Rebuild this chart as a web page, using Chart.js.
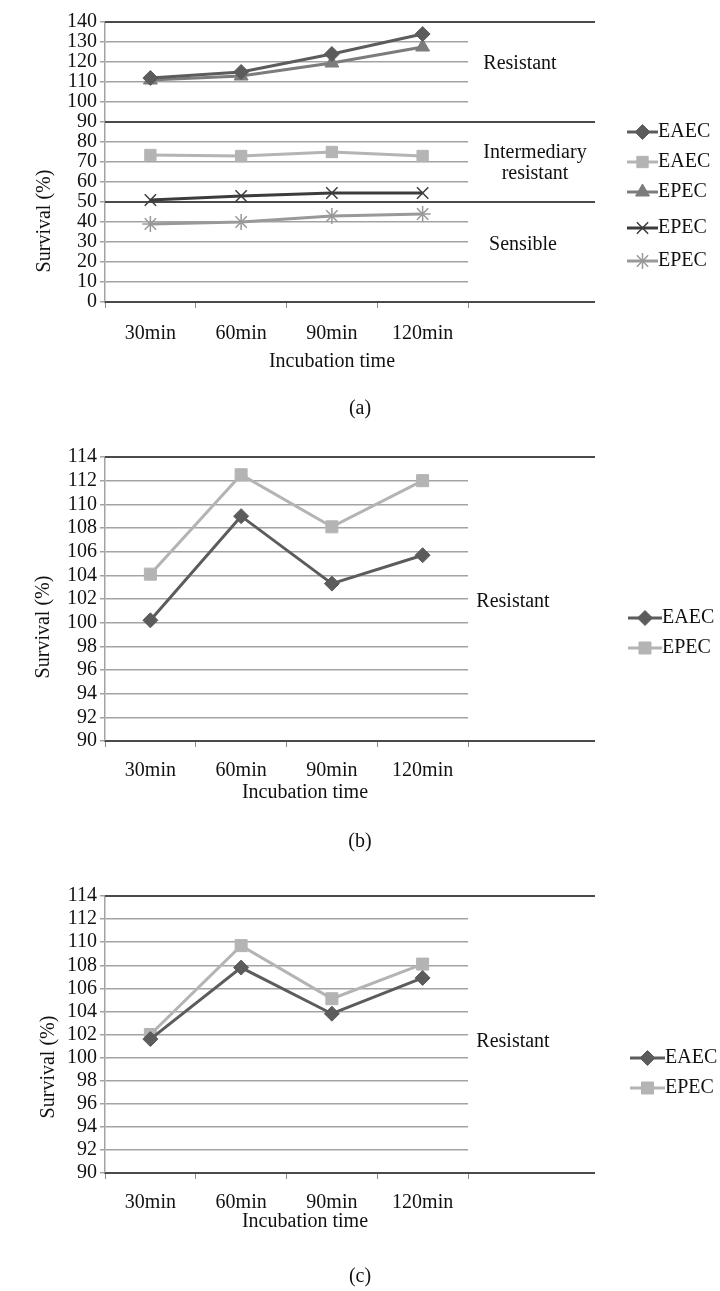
<!DOCTYPE html>
<html>
<head>
<meta charset="utf-8">
<script src="https://cdn.jsdelivr.net/npm/chart.js@4.4.1/dist/chart.umd.min.js"></script>
<style>
  body { margin: 0; background: #fff; }
  #page { position: relative; width: 720px; height: 1291px; background: #fff; }
  .box { position: absolute; left: 0; width: 720px; height: 400px; }
  .caption { position: absolute; left: 0; width: 720px; text-align: center;
             font: 20px "Liberation Serif", "DejaVu Serif", serif; line-height: 22px; color: #111; }
</style>
</head>
<body>
<div id="page">
  <div class="box" style="top:0px"><canvas id="chart-a"></canvas></div>
  <div class="caption" style="top:396px">(a)</div>
  <div class="box" style="top:420px"><canvas id="chart-b"></canvas></div>
  <div class="caption" style="top:829px">(b)</div>
  <div class="box" style="top:860px"><canvas id="chart-c"></canvas></div>
  <div class="caption" style="top:1264px">(c)</div>
</div>
<script>
const timeLabels = ['30min', '60min', '90min', '120min'];

// panel (a)
const aEaecDiamond = [112, 115, 124, 134];
const aEaecSquare = [73.5, 73, 75, 73];
const aEpecTriangle = [111, 113, 119.5, 127.5];
const aEpecCross = [51, 53, 54.5, 54.5];
const aEpecStar = [39, 40, 43, 44];
const aDividers = [140, 90, 50, 0];

// panel (b)
const bEaec = [100.2, 109, 103.3, 105.7];
const bEpec = [104.1, 112.5, 108.1, 112];

// panel (c)
const cEaec = [101.6, 107.8, 103.8, 106.9];
const cEpec = [102, 109.7, 105.1, 108.1];
const bcDividers = [114, 90];

const FONT = '"Liberation Serif", "DejaVu Serif", serif';
const DARK = '#4a4a4a';
const GRID = '#a3a3a3';

function series(label, data, color, style, radius) {
    return {
        label: label,
        data: data,
        borderColor: color,
        backgroundColor: color,
        pointBackgroundColor: color,
        pointBorderColor: color,
        borderWidth: 3,
        pointStyle: style,
        pointRadius: radius,
        pointBorderWidth: (style === 'crossRot' || style === 'star') ? 1.5 : 1,
        tension: 0
    };
}

function drawMarker(ctx, ds, x, y) {
    ctx.fillStyle = ds.pointBackgroundColor;
    ctx.strokeStyle = ds.pointBorderColor;
    ctx.lineWidth = ds.pointBorderWidth;
    Chart.helpers.drawPoint(ctx, { pointStyle: ds.pointStyle, radius: ds.pointRadius, borderWidth: ds.pointBorderWidth, rotation: 0 }, x, y);
}

const overlay = {
    id: 'overlay',
    beforeDatasetsDraw(chart, args, opts) {
        const ctx = chart.ctx;
        const ys = chart.scales.y;
        const area = chart.chartArea;
        ctx.save();
        ctx.strokeStyle = DARK;
        ctx.lineWidth = 2;
        opts.dividers.forEach(function(v) {
            const py = Math.round(ys.getPixelForValue(v));
            ctx.beginPath();
            ctx.moveTo(area.left, py);
            ctx.lineTo(opts.lineEnd, py);
            ctx.stroke();
        });
        ctx.fillStyle = '#111';
        ctx.font = '20px ' + FONT;
        ctx.textAlign = 'center';
        ctx.textBaseline = 'middle';
        opts.zones.forEach(function(z) {
            ctx.fillText(z.text, z.x, ys.getPixelForValue(z.value));
        });
        ctx.restore();
    },
    afterDraw(chart, args, opts) {
        const ctx = chart.ctx;
        ctx.save();
        ctx.fillStyle = '#111';
        ctx.font = '20px ' + FONT;
        // axis titles
        ctx.textAlign = 'center';
        ctx.textBaseline = 'middle';
        ctx.fillText('Incubation time', opts.xTitle[0], opts.xTitle[1]);
        ctx.save();
        ctx.translate(opts.yTitle[0], opts.yTitle[1]);
        ctx.rotate(-Math.PI / 2);
        ctx.fillText('Survival (%)', 0, 0);
        ctx.restore();
        // legend
        const lg = opts.legend;
        chart.data.datasets.forEach(function(ds, i) {
            const y = lg.rows[i];
            ctx.strokeStyle = ds.borderColor;
            ctx.lineWidth = 3;
            ctx.beginPath();
            ctx.moveTo(lg.x0, y);
            ctx.lineTo(lg.x1, y);
            ctx.stroke();
            drawMarker(ctx, ds, (lg.x0 + lg.x1) / 2, y);
            ctx.fillStyle = '#111';
            ctx.textAlign = 'left';
            ctx.textBaseline = 'middle';
            ctx.fillText(ds.label, lg.x1, y);
        });
        ctx.restore();
    }
};

function makeChart(id, datasets, yMin, yMax, step, geo, overlayOpts) {
    const ctx = document.getElementById(id).getContext('2d');
    return new Chart(ctx, {
        type: 'line',
        data: { labels: timeLabels, datasets: datasets },
        plugins: [overlay],
        options: {
            responsive: true,
            maintainAspectRatio: false,
            animation: false,
            layout: { padding: { left: 0, right: 252, top: geo.top, bottom: 0 } },
            plugins: {
                legend: { display: false },
                tooltip: { enabled: false },
                overlay: overlayOpts
            },
            scales: {
                x: {
                    offset: true,
                    grid: { drawOnChartArea: false, drawTicks: true, tickLength: 6, color: '#8a8a8a', offset: true },
                    border: { color: DARK, width: 2 },
                    ticks: { color: '#111', font: { family: FONT, size: 20 }, padding: geo.xPad, maxRotation: 0 },
                    afterFit: function(scale) { scale.height = geo.xHeight; }
                },
                y: {
                    min: yMin,
                    max: yMax,
                    grid: { color: GRID, lineWidth: 1.5, tickLength: 5 },
                    border: { color: GRID, width: 1.5 },
                    ticks: { stepSize: step, autoSkip: false, color: '#111', font: { family: FONT, size: 20 }, padding: 3 },
                    afterFit: function(scale) { scale.width = 105; }
                }
            }
        }
    });
}

document.addEventListener('DOMContentLoaded', function() {
    makeChart('chart-a', [
        series('EAEC', aEaecDiamond, '#5c5c5c', 'rectRot', 7.5),
        series('EAEC', aEaecSquare, '#b4b4b4', 'rect', 8),
        series('EPEC', aEpecTriangle, '#7c7c7c', 'triangle', 8),
        series('EPEC', aEpecCross, '#3c3c3c', 'crossRot', 8),
        series('EPEC', aEpecStar, '#999999', 'star', 8)
    ], 0, 140, 10, { top: 22, xHeight: 98, xPad: 14 }, {
        dividers: aDividers,
        lineEnd: 595,
        zones: [
            { text: 'Resistant', x: 520, value: 119 },
            { text: 'Intermediary', x: 535, value: 74.5 },
            { text: 'resistant', x: 535, value: 64 },
            { text: 'Sensible', x: 523, value: 28.5 }
        ],
        xTitle: [332, 362],
        yTitle: [45, 221],
        legend: { x0: 627, x1: 658, rows: [132, 162, 192, 228, 261] }
    });

    makeChart('chart-b', [
        series('EAEC', bEaec, '#5c5c5c', 'rectRot', 7.5),
        series('EPEC', bEpec, '#b4b4b4', 'rect', 8.5)
    ], 90, 114, 2, { top: 37, xHeight: 79, xPad: 12 }, {
        dividers: bcDividers,
        lineEnd: 595,
        zones: [{ text: 'Resistant', x: 513, value: 101.75 }],
        xTitle: [305, 373],
        yTitle: [44, 207],
        legend: { x0: 628, x1: 662, rows: [198, 228] }
    });

    makeChart('chart-c', [
        series('EAEC', cEaec, '#5c5c5c', 'rectRot', 7.5),
        series('EPEC', cEpec, '#b4b4b4', 'rect', 8.5)
    ], 90, 114, 2, { top: 36, xHeight: 87, xPad: 12 }, {
        dividers: bcDividers,
        lineEnd: 595,
        zones: [{ text: 'Resistant', x: 513, value: 101.4 }],
        xTitle: [305, 362],
        yTitle: [49, 207],
        legend: { x0: 630, x1: 665, rows: [198, 228] }
    });
});
</script>
</body>
</html>
